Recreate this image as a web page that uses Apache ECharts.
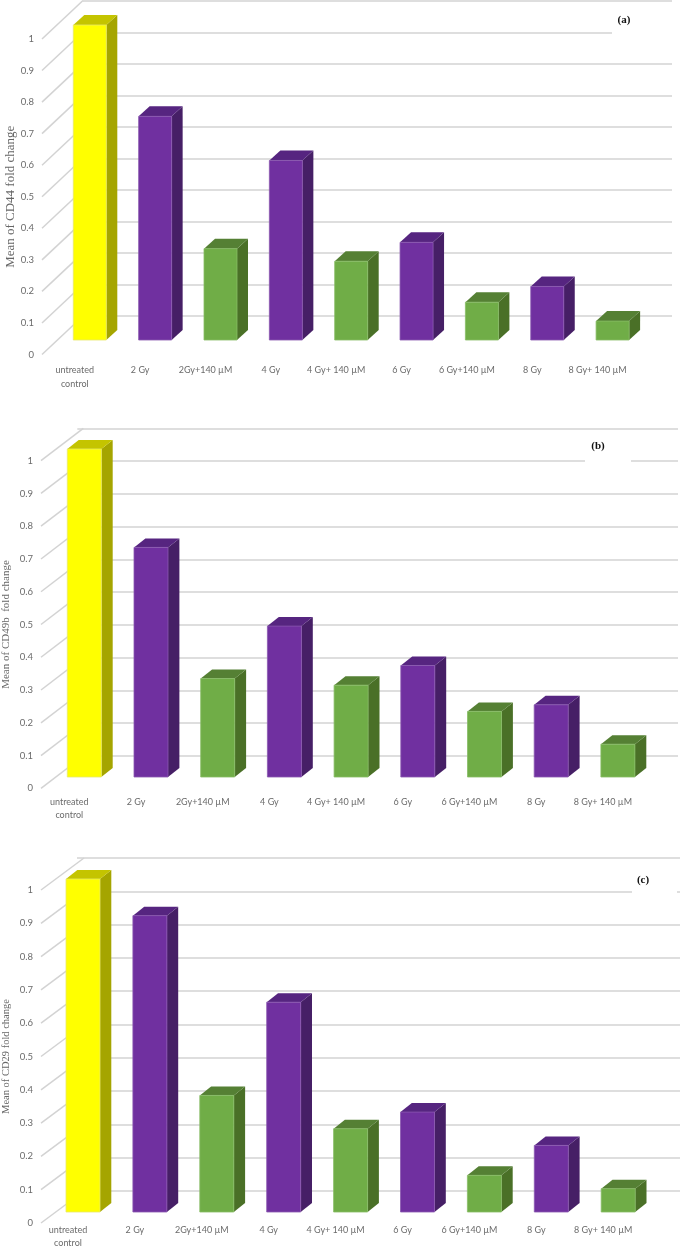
<!DOCTYPE html>
<html><head><meta charset="utf-8">
<style>html,body{margin:0;padding:0;background:#fff}#c{width:680px;height:1250px}</style>
<script src="https://cdn.jsdelivr.net/npm/echarts@6/dist/echarts.min.js"></script>
</head><body><div id="c"></div>
<script>
const categories = ['untreated\ncontrol','2 Gy','2Gy+140 µM','4 Gy','4 Gy+ 140 µM','6 Gy','6 Gy+140 µM','8 Gy','8 Gy+ 140 µM'];
const groupOfBar = [0,1,2,1,2,1,2,1,2];
const cd44Values = [1,0.71,0.29,0.57,0.25,0.31,0.12,0.17,0.06];
const cd49bValues = [1,0.70,0.30,0.46,0.28,0.34,0.20,0.22,0.10];
const cd29Values = [1,0.89,0.35,0.63,0.25,0.30,0.11,0.20,0.07];
const yTicks = [0,0.1,0.2,0.3,0.4,0.5,0.6,0.7,0.8,0.9,1];
const faces = [
  {front:'#FFFF00',side:'#A5A500',top:'#C4C400',edge:'#E8E86A'},
  {front:'#7030A0',side:'#461F66',top:'#562580',edge:'#8A58B0'},
  {front:'#70AD47',side:'#4A7027',top:'#558034',edge:'#88BC66'}
];
const panels = [
 {tag:'(a)',name:'Mean of CD44 fold change',nameSize:13,nameGap:24,values:cd44Values,front:[42,354.5,39],back:[83,316,1],right:672,bar:[73.3,340,25],w:33,step:65.35,depth:[11,-10],labelMargin:9,
  tagPos:[624,20],gap:[612,24,68,16]},
 {tag:'(b)',name:'Mean of CD49b  fold change',nameSize:11,nameGap:29,values:cd49bValues,front:[35,788.3,460.7],back:[77.3,756,428.3],right:678,bar:[67.3,777,449],w:34,step:66.7,depth:[11.4,-9],labelMargin:7,
  tagPos:[598,446],gap:[585,455,46,12]},
 {tag:'(c)',name:'Mean of CD29 fold change',nameSize:10.5,nameGap:29,values:cd29Values,front:[34,1223,890],back:[77,1191,858],right:680,bar:[66,1212,879],w:34,step:66.9,depth:[11.3,-9],labelMargin:7,
  tagPos:[643,880],gap:[632,885,45,12]}
];
const textColor = '#6b6b6b', lineColor = '#d3d3d3', labelFont = 'Lato';
const grid=[],xAxis=[],yAxis=[],series=[],title=[],graphic=[];
panels.forEach(p=>{
  const n=categories.length;
  const span=p.step*n;
  const barGridLeft=p.bar[0]+p.w/2-p.step/2;
  // back wall
  let g=grid.length;
  grid.push({left:p.back[0],top:p.back[2],width:p.right-p.back[0],height:p.back[1]-p.back[2]});
  xAxis.push({gridIndex:g,type:'category',show:false,data:categories});
  yAxis.push({gridIndex:g,type:'value',min:0,max:1,interval:0.1,
    axisLine:{show:false},axisTick:{show:false},axisLabel:{show:false},
    splitLine:{show:true,lineStyle:{color:lineColor,width:1.5}}});
  // category labels, shifted left of the bars as in the source
  g=grid.length;
  grid.push({left:barGridLeft-15,top:p.front[2],width:span,height:p.front[1]-p.front[2]});
  xAxis.push({gridIndex:g,type:'category',data:categories,
    axisLine:{show:false},axisTick:{show:false},
    axisLabel:{interval:0,margin:p.labelMargin,fontFamily:labelFont,fontSize:9,lineHeight:13.5,color:textColor,hideOverlap:false}});
  yAxis.push({gridIndex:g,type:'value',show:false,min:0,max:1,interval:0.1,splitLine:{show:false}});
  // value labels and the side-wall lines
  g=grid.length;
  grid.push({left:p.front[0],top:p.front[2],width:p.back[0]-p.front[0],height:p.front[1]-p.front[2]});
  xAxis.push({gridIndex:g,type:'value',show:false,min:0,max:1});
  yAxis.push({gridIndex:g,type:'value',min:0,max:1,interval:0.1,
    name:p.name,nameLocation:'middle',nameRotate:90,nameGap:p.nameGap,
    nameTextStyle:{fontFamily:'Liberation Serif',fontSize:p.nameSize,color:'#666'},
    axisLine:{show:false},axisTick:{show:false},splitLine:{show:false},
    axisLabel:{margin:8,fontFamily:labelFont,fontSize:9.5,color:textColor,padding:[1,0,0,0]}});
  const dxWall=p.back[0]-p.front[0], dyWall=p.back[1]-p.front[1];
  series.push({type:'custom',coordinateSystem:'cartesian2d',xAxisIndex:g,yAxisIndex:g,silent:true,z:1,
    data:yTicks.map(v=>[0,v]),
    renderItem:(params,api)=>{
      const s=api.coord([0,api.value(1)]);
      return {type:'line',shape:{x1:s[0],y1:s[1],x2:s[0]+dxWall,y2:s[1]+dyWall},style:{stroke:lineColor,lineWidth:1.5}};
    }});
  // bars
  g=grid.length;
  grid.push({left:barGridLeft,top:p.bar[2],width:span,height:p.bar[1]-p.bar[2]});
  xAxis.push({gridIndex:g,type:'category',show:false,data:categories});
  yAxis.push({gridIndex:g,type:'value',show:false,min:0,max:1,interval:0.1,splitLine:{show:false}});
  series.push({type:'custom',coordinateSystem:'cartesian2d',xAxisIndex:g,yAxisIndex:g,silent:true,z:3,
    data:p.values.map((v,i)=>[i,v,groupOfBar[i]]),
    renderItem:(params,api)=>{
      const base=api.coord([api.value(0),0]), top=api.coord([api.value(0),api.value(1)]);
      const f=faces[api.value(2)], l=base[0]-p.w/2, r=l+p.w, dx=p.depth[0], dy=p.depth[1];
      return {type:'group',children:[
        {type:'polygon',shape:{points:[[r,top[1]],[r+dx,top[1]+dy],[r+dx,base[1]+dy],[r,base[1]]]},style:{fill:f.side}},
        {type:'polygon',shape:{points:[[l,top[1]],[l+dx,top[1]+dy],[r+dx,top[1]+dy],[r,top[1]]]},style:{fill:f.top}},
        {type:'rect',shape:{x:l,y:top[1],width:p.w,height:base[1]-top[1]},style:{fill:f.front,stroke:f.edge,lineWidth:0.8}}
      ]};
    }});
  title.push({text:p.tag,left:p.tagPos[0],top:p.tagPos[1],textAlign:'center',textVerticalAlign:'middle',
    textStyle:{fontFamily:'Liberation Serif',fontWeight:'bold',fontSize:11,color:'#111'},padding:0});
  graphic.push({type:'rect',z:2,silent:true,shape:{x:p.gap[0],y:p.gap[1],width:p.gap[2],height:p.gap[3]},style:{fill:'#fff'}});
});
const chart=echarts.init(document.getElementById('c'),null,{renderer:'canvas'});
chart.setOption({animation:false,backgroundColor:'#fff',grid,xAxis,yAxis,series,title,graphic});
</script></body></html>
